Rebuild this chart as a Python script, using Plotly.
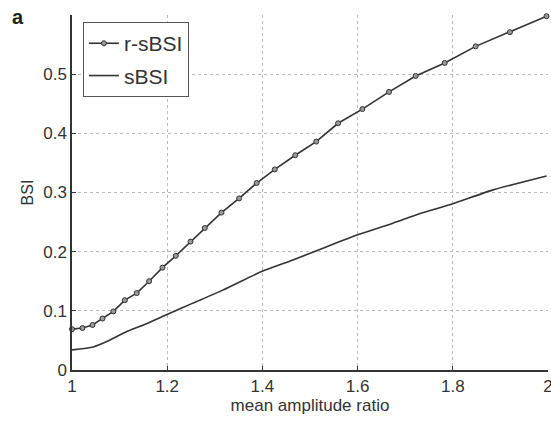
import plotly.graph_objects as go

# r-sBSI (line with markers)
r_x = [1.000, 1.022, 1.043, 1.064, 1.087, 1.111, 1.136, 1.162, 1.190, 1.218,
       1.249, 1.279, 1.314, 1.351, 1.388, 1.426, 1.469, 1.513, 1.559, 1.610,
       1.666, 1.722, 1.783, 1.848, 1.920, 1.997]
r_y = [0.069, 0.071, 0.076, 0.087, 0.099, 0.118, 0.130, 0.150, 0.173, 0.193,
       0.217, 0.240, 0.266, 0.290, 0.316, 0.339, 0.363, 0.386, 0.417, 0.441,
       0.470, 0.497, 0.519, 0.547, 0.571, 0.598]

# sBSI (plain line)
s_x = [1.000, 1.045, 1.073, 1.115, 1.150, 1.197, 1.254, 1.317, 1.397, 1.464,
       1.534, 1.599, 1.674, 1.730, 1.800, 1.883, 1.997]
s_y = [0.034, 0.039, 0.048, 0.065, 0.076, 0.093, 0.113, 0.135, 0.166, 0.186,
       0.208, 0.228, 0.248, 0.264, 0.281, 0.304, 0.328]

x_ticks = [1, 1.2, 1.4, 1.6, 1.8, 2]
x_tick_labels = ["1", "1.2", "1.4", "1.6", "1.8", "2"]
y_ticks = [0, 0.1, 0.2, 0.3, 0.4, 0.5]
y_tick_labels = ["0", "0.1", "0.2", "0.3", "0.4", "0.5"]

line_col = "#333333"
font_fam = "Liberation Sans, Arial, sans-serif"

fig = go.Figure()
fig.add_trace(go.Scatter(
    x=r_x, y=r_y, mode="lines+markers", name="r-sBSI", legendgroup="a",
    line=dict(color=line_col, width=1.6),
    marker=dict(symbol="circle", size=5, color="#9a9a9a",
                line=dict(color=line_col, width=1)),
    cliponaxis=False,
))
fig.add_trace(go.Scatter(
    x=s_x, y=s_y, mode="lines", name="sBSI", legendgroup="b",
    line=dict(color=line_col, width=1.6, shape="spline", smoothing=0.6),
    cliponaxis=False,
))

fig.update_layout(
    width=551, height=423,
    margin=dict(l=72, r=3, t=15, b=53, autoexpand=False),
    plot_bgcolor="white", paper_bgcolor="white",
    font=dict(family=font_fam, color="#333333"),
    showlegend=True,
    legend=dict(
        x=0.023, y=0.98, xanchor="left", yanchor="top",
        bgcolor="white", bordercolor="#555555", borderwidth=1,
        font=dict(size=21, color="#333333"),
        tracegroupgap=2,
        itemwidth=30,
    ),
    xaxis=dict(
        range=[1, 2], tickvals=x_ticks, ticktext=x_tick_labels,
        showline=True, linecolor="#333333", linewidth=1.5,
        ticks="inside", ticklen=4, tickcolor="#333333",
        showgrid=True, gridcolor="#bbbbbb", griddash="dot", gridwidth=1,
        zeroline=False, mirror=False, ticklabeloverflow="allow", automargin=False,
        tickfont=dict(size=17, color="#333333"),
        title=dict(text="mean amplitude ratio", font=dict(size=17, color="#333333"), standoff=4),
    ),
    yaxis=dict(
        range=[0, 0.6], tickvals=y_ticks, ticktext=y_tick_labels,
        showline=True, linecolor="#333333", linewidth=1.5,
        ticks="inside", ticklen=4, tickcolor="#333333",
        showgrid=True, gridcolor="#bbbbbb", griddash="dot", gridwidth=1,
        zeroline=False, mirror=False, automargin=False,
        tickfont=dict(size=17, color="#333333"),
        title=dict(text="BSI", font=dict(size=16, color="#333333"), standoff=6),
    ),
    annotations=[dict(
        text="<b>a</b>", xref="paper", yref="paper",
        x=(18 - 72) / 476, y=(370 - 17) / 355, xanchor="center", yanchor="middle",
        showarrow=False, font=dict(size=20, color="#222222"),
    )],
)

fig.write_html("out.html")
